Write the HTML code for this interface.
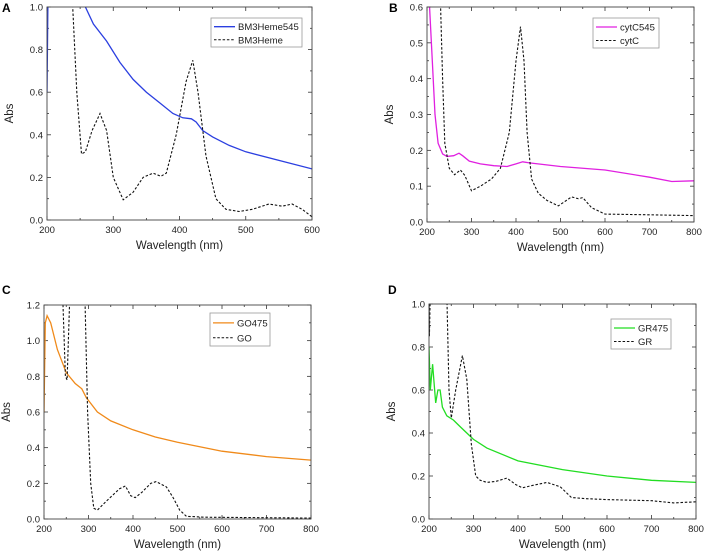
<!DOCTYPE html>
<html><head><meta charset="utf-8"><style>
body{margin:0;background:#fff;}
svg{display:block;font-family:"Liberation Sans",Arial,sans-serif;}
</style></head><body>
<svg id="fig" width="708" height="558" viewBox="0 0 708 558"></svg>
<script>
// Panel A data
const aXTicks=[200,300,400,600,500];
const aYTicks=[0,0.2,0.4,0.6,0.8,1.0];
const aBlue=[[200,0.6],[202,1.2],[258,1.0],[270,0.92],[290,0.84],[310,0.74],[330,0.66],[350,0.6],[370,0.55],[390,0.5],[405,0.48],[418,0.475],[425,0.46],[435,0.42],[450,0.39],[475,0.35],[500,0.32],[550,0.28],[600,0.24]];
const aDash=[[238,1.05],[245,0.6],[252,0.31],[258,0.32],[268,0.42],[280,0.5],[290,0.42],[300,0.2],[315,0.095],[330,0.13],[345,0.2],[360,0.22],[372,0.205],[380,0.22],[395,0.4],[410,0.65],[420,0.75],[428,0.6],[440,0.3],[455,0.1],[470,0.05],[490,0.04],[510,0.05],[535,0.075],[555,0.065],[570,0.075],[585,0.05],[600,0.015]];
// Panel B data
const bXTicks=[200,300,400,500,600,700,800];
const bYTicks=[0,0.1,0.2,0.3,0.4,0.5,0.6];
const bMag=[[205,0.62],[212,0.45],[218,0.3],[225,0.22],[235,0.19],[245,0.183],[260,0.185],[272,0.192],[280,0.185],[295,0.17],[320,0.162],[350,0.157],[380,0.155],[400,0.162],[415,0.168],[430,0.165],[500,0.155],[600,0.145],[700,0.125],[750,0.113],[800,0.115]];
const bDash=[[230,0.62],[235,0.4],[240,0.22],[250,0.15],[262,0.132],[275,0.145],[285,0.13],[300,0.087],[320,0.1],[345,0.12],[365,0.15],[385,0.25],[400,0.45],[410,0.545],[418,0.45],[425,0.25],[435,0.12],[450,0.08],[470,0.06],[495,0.045],[525,0.07],[540,0.065],[550,0.068],[570,0.04],[600,0.022],[700,0.02],[800,0.018]];
// Panel C data
const cXTicks=[200,300,400,500,600,700,800];
const cYTicks=[0,0.2,0.4,0.6,0.8,1.0,1.2];
const cOrange=[[200,0.6],[203,1.1],[207,1.14],[215,1.1],[230,0.95],[250,0.82],[270,0.76],[285,0.73],[295,0.68],[320,0.6],[350,0.55],[400,0.5],[450,0.46],[500,0.43],[600,0.38],[700,0.35],[800,0.33]];
const cDash=[[242,1.25],[248,0.8],[252,0.78],[258,1.25],[292,1.25],[298,0.6],[305,0.2],[312,0.06],[320,0.05],[340,0.1],[370,0.17],[383,0.185],[395,0.13],[405,0.12],[420,0.15],[440,0.2],[452,0.21],[475,0.18],[490,0.12],[505,0.05],[520,0.015],[560,0.01],[800,0.005]];
// Panel D data
const dXTicks=[200,300,400,500,600,700,800];
const dYTicks=[0,0.2,0.4,0.6,0.8,1.0];
const dGreen=[[200,0.8],[203,0.6],[208,0.72],[212,0.62],[215,0.54],[220,0.6],[225,0.6],[230,0.52],[240,0.48],[255,0.46],[270,0.43],[285,0.4],[300,0.37],[330,0.33],[400,0.27],[500,0.23],[600,0.2],[700,0.18],[800,0.17]];
const dDash=[[200,1.05],[201,0.85],[203,1.05],[240,1.05],[245,0.6],[250,0.47],[260,0.6],[275,0.76],[285,0.65],[295,0.35],[305,0.2],[315,0.18],[330,0.17],[350,0.175],[375,0.19],[395,0.16],[410,0.145],[430,0.155],[465,0.17],[495,0.15],[520,0.1],[550,0.095],[600,0.09],[700,0.085],[750,0.075],[800,0.08]];

const NS="http://www.w3.org/2000/svg";
const svg=document.getElementById('fig');
function mk(tag,attrs,parent){const e=document.createElementNS(NS,tag);for(const k in attrs)e.setAttribute(k,attrs[k]);(parent||svg).appendChild(e);return e;}

function panel(p){
  const g=mk('g',{});
  
  
  const xs=v=>p.L+(v-p.x0)/(p.x1-p.x0)*(p.R-p.L);
  const ys=v=>p.B-(v-p.y0)/(p.y1-p.y0)*(p.B-p.T);
  const lab=mk('text',{x:p.lx,y:p.ly,'font-size':12,'font-weight':'bold',fill:'#000'},g);lab.textContent=p.id;
  
  const clipId='clip'+p.id;
  const cp=mk('clipPath',{id:clipId},g);mk('rect',{x:p.L,y:p.T,width:p.R-p.L,height:p.B-p.T},cp);
  // ticks
  const xt=p.xt.slice().sort((a,b)=>a-b);
  const xstep=xt[1]-xt[0], ystep=p.yt[1]-p.yt[0];
  for(let v=p.x0;v<=p.x1+1e-9;v+=xstep/2){
    const major=p.xt.some(t=>Math.abs(t-v)<1e-6);const len=major?4:2;
    mk('line',{x1:xs(v),x2:xs(v),y1:p.B,y2:p.B-len,stroke:'#333','stroke-width':0.8},g);
    mk('line',{x1:xs(v),x2:xs(v),y1:p.T,y2:p.T+len,stroke:'#333','stroke-width':0.8},g);
  }
  p.xt.forEach(v=>{const t=mk('text',{x:xs(v),y:p.B+13,'font-size':9.5,'text-anchor':'middle',fill:'#222'},g);t.textContent=v;
    });
  for(let v=p.y0;v<=p.y1+1e-9;v+=ystep/2){
    const major=p.yt.some(t=>Math.abs(t-v)<1e-6);const len=major?4:2;
    mk('line',{x1:p.L,x2:p.L+len,y1:ys(v),y2:ys(v),stroke:'#333','stroke-width':0.8},g);
    mk('line',{x1:p.R,x2:p.R-len,y1:ys(v),y2:ys(v),stroke:'#333','stroke-width':0.8},g);
  }
  p.yt.forEach(v=>{const t=mk('text',{x:p.L-4,y:ys(v)+3.5,'font-size':9.5,'text-anchor':'end',fill:'#222'},g);t.textContent=v.toFixed(1);
    });
  const xl=mk('text',{x:(p.L+p.R)/2,y:p.B+29,'font-size':11.5,'text-anchor':'middle',fill:'#222'},g);xl.textContent='Wavelength (nm)';
  
  const yx=p.L-34, yy=(p.T+p.B)/2;
  const yl=mk('text',{x:yx,y:yy,'font-size':11.5,'text-anchor':'middle',fill:'#222',transform:`rotate(-90 ${yx} ${yy})`},g);yl.textContent='Abs';
  
  // series
  const cg=mk('g',{'clip-path':`url(#${clipId})`},g);
  const d1=p.s1.map((q,i)=>(i?'L':'M')+xs(q[0]).toFixed(1)+','+ys(q[1]).toFixed(1)).join('');
  const l1=mk('path',{d:d1,fill:'none',stroke:p.c,'stroke-width':1.3},cg);
  
  const d2=p.s2.map((q,i)=>(i?'L':'M')+xs(q[0]).toFixed(1)+','+ys(q[1]).toFixed(1)).join('');
  const l2=mk('path',{d:d2,fill:'none',stroke:'#111','stroke-width':1.1,'stroke-dasharray':'2.5,1.8'},cg);
  
  mk('rect',{x:p.L,y:p.T,width:p.R-p.L,height:p.B-p.T,fill:'none',stroke:'#444','stroke-width':0.9},g);
  // legend
  const lg=mk('g',{},g);
  const [a,b,c,d]=p.leg;
  mk('rect',{x:a,y:b,width:c-a,height:d-b,fill:'#fff',stroke:'#999','stroke-width':0.8},lg);
  const r1=b+(d-b)*0.3, r2=b+(d-b)*0.75;
  mk('line',{x1:a+3,x2:a+24,y1:r1,y2:r1,stroke:p.c,'stroke-width':1.3},lg);
  mk('line',{x1:a+3,x2:a+24,y1:r2,y2:r2,stroke:'#111','stroke-width':1.1,'stroke-dasharray':'2.5,1.8'},lg);
  const t1=mk('text',{x:a+27,y:r1+3.5,'font-size':9.5,fill:'#222'},lg);t1.textContent=p.n1;
  
  const t2=mk('text',{x:a+27,y:r2+3.5,'font-size':9.5,fill:'#222'},lg);t2.textContent=p.n2;
  
}
panel({id:'A',lx:2,ly:12,L:47,R:312,T:7,B:220,x0:200,x1:600,y0:0,y1:1.0,xt:[200,300,400,500,600],yt:aYTicks,s1:aBlue,s2:aDash,c:'#2b3fe0',n1:'BM3Heme545',n2:'BM3Heme',leg:[211,18,302,47]});
panel({id:'B',lx:389,ly:12,L:427,R:694,T:7,B:222,x0:200,x1:800,y0:0,y1:0.6,xt:bXTicks,yt:bYTicks,s1:bMag,s2:bDash,c:'#e020e0',n1:'cytC545',n2:'cytC',leg:[593,18,659,48]});
panel({id:'C',lx:2,ly:294,L:44,R:311,T:305,B:519,x0:200,x1:800,y0:0,y1:1.2,xt:cXTicks,yt:cYTicks,s1:cOrange,s2:cDash,c:'#f08a1a',n1:'GO475',n2:'GO',leg:[210,313,270,346]});
panel({id:'D',lx:388,ly:294,L:429,R:696,T:304,B:519,x0:200,x1:800,y0:0,y1:1.0,xt:dXTicks,yt:dYTicks,s1:dGreen,s2:dDash,c:'#22dd22',n1:'GR475',n2:'GR',leg:[611,319,671,349]});
</script>
</body></html>
